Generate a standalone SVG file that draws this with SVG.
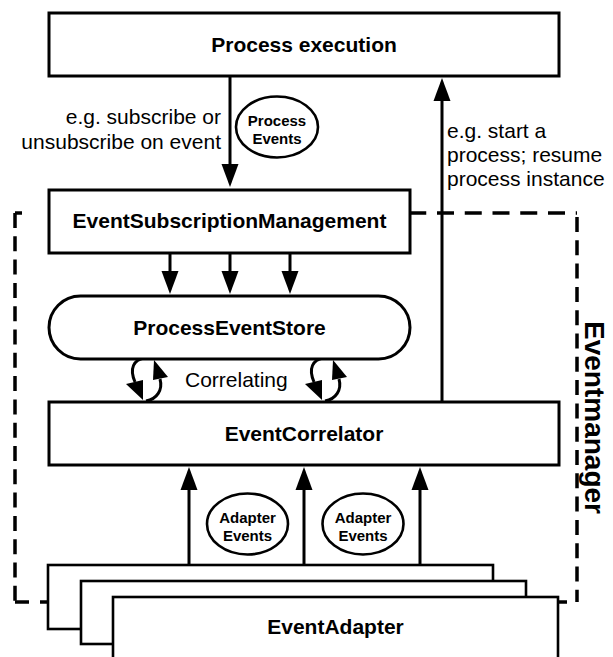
<svg xmlns="http://www.w3.org/2000/svg" width="613" height="657" viewBox="0 0 613 657">
  <style>
    text { font-family: "Liberation Sans", Arial, Helvetica, sans-serif; fill: #000; }
    .box { fill: #fff; stroke: #000; stroke-width: 3; }
    .adapter { fill: #fff; stroke: #000; stroke-width: 2.6; }
    .token { fill: #fff; stroke: #000; stroke-width: 2.6; }
    .title { font-size: 21px; font-weight: bold; text-anchor: middle; }
    .note { font-size: 21px; }
    .tok { font-size: 15px; font-weight: bold; text-anchor: middle; }
    .flow { fill: none; stroke: #000; stroke-width: 3; marker-end: url(#head); }
    .sync { fill: none; stroke: #000; stroke-width: 3; }
    .bound { fill: none; stroke: #000; stroke-width: 3.5; }
    .dh { stroke-dasharray: 17 10.75; }
    .dv { stroke-dasharray: 15 8.3; }
  </style>
  <defs>
    <!-- filled triangular arrowhead, placed with its base on the line end -->
    <marker id="head" markerUnits="userSpaceOnUse" markerWidth="24" markerHeight="18"
            refX="0" refY="8.5" orient="auto" overflow="visible">
      <path d="M0,0 L23,8.5 L0,17 Z" fill="#000"/>
    </marker>
    <!-- pair of curved correlating arrows (down on the left, up on the right) -->
    <g id="correlate">
      <path class="sync" d="M-5,-22 C-15,-20 -20,-12 -14,2"/>
      <polygon points="-23,4 -6,0 -6,20" fill="#000"/>
      <path class="sync" d="M-3,21 C8,19 14,10 11,-1"/>
      <polygon points="4,0 19,-3 5,-20" fill="#000"/>
    </g>
  </defs>

  <rect width="613" height="657" fill="#fff"/>

  <!-- Eventmanager boundary -->
  <g id="eventmanager-boundary">
    <line class="bound" x1="15" y1="213" x2="22" y2="213"/>
    <line class="bound dh" x1="409.25" y1="213" x2="577" y2="213"/>
    <line class="bound dv" x1="15" y1="213" x2="15" y2="602"/>
    <line class="bound dv" x1="577" y1="217" x2="577" y2="602"/>
    <line class="bound" x1="15" y1="602" x2="29" y2="602"/>
    <line class="bound" x1="40" y1="602" x2="48" y2="602"/>
    <line class="bound" x1="559" y1="602" x2="567" y2="602"/>
    <text transform="translate(585,321) rotate(90)" font-size="28" font-weight="bold">Eventmanager</text>
  </g>

  <!-- connectors -->
  <g id="connectors">
    <line class="flow" x1="230" y1="77" x2="230" y2="164"/>
    <line class="flow" x1="442" y1="401" x2="442" y2="101"/>
    <line class="flow" x1="170" y1="254" x2="170" y2="271"/>
    <line class="flow" x1="230" y1="254" x2="230" y2="271"/>
    <line class="flow" x1="290" y1="254" x2="290" y2="271"/>
    <line class="flow" x1="189" y1="596" x2="189" y2="490"/>
    <line class="flow" x1="304" y1="580" x2="304" y2="490"/>
    <line class="flow" x1="420" y1="564" x2="420" y2="490"/>
    <use href="#correlate" x="149" y="380"/>
    <use href="#correlate" x="328" y="380"/>
  </g>

  <!-- connector labels -->
  <g id="labels">
    <text class="note" x="221" y="124" text-anchor="end">e.g. subscribe or</text>
    <text class="note" x="221" y="149" text-anchor="end">unsubscribe on event</text>
    <text class="note" x="447" y="138">e.g. start a</text>
    <text class="note" x="447" y="162">process; resume</text>
    <text class="note" x="447" y="186">process instance</text>
    <text class="note" x="185" y="387">Correlating</text>
  </g>

  <g id="process-events">
    <ellipse class="token" cx="277" cy="127" rx="41" ry="30.5"/>
    <text class="tok" x="277" y="125.5">Process</text>
    <text class="tok" x="277" y="143.5">Events</text>
  </g>

  <g id="adapter-events-1">
    <ellipse class="token" cx="247.5" cy="524" rx="40.5" ry="30.5"/>
    <text class="tok" x="247.5" y="522.5">Adapter</text>
    <text class="tok" x="247.5" y="540.5">Events</text>
  </g>

  <g id="adapter-events-2">
    <ellipse class="token" cx="363" cy="524" rx="40.5" ry="30.5"/>
    <text class="tok" x="363" y="522.5">Adapter</text>
    <text class="tok" x="363" y="540.5">Events</text>
  </g>

  <g id="process-execution">
    <rect class="box" x="49" y="13" width="510" height="63"/>
    <text class="title" x="304" y="52">Process execution</text>
  </g>

  <g id="event-subscription-management">
    <rect class="box" x="49" y="190" width="361" height="63"/>
    <text class="title" x="229.5" y="228">EventSubscriptionManagement</text>
  </g>

  <g id="process-event-store">
    <rect class="box" x="49" y="296" width="361" height="63" rx="31.5" ry="31.5"/>
    <text class="title" x="229.5" y="335">ProcessEventStore</text>
  </g>

  <g id="event-correlator">
    <rect class="box" x="49" y="402" width="510" height="63"/>
    <text class="title" x="304" y="441">EventCorrelator</text>
  </g>

  <!-- stacked adapter instances -->
  <g id="event-adapter">
    <rect class="adapter" x="48" y="565" width="445" height="64"/>
    <rect class="adapter" x="81" y="581" width="445" height="63"/>
    <rect class="adapter" x="113" y="597" width="445" height="64"/>
    <text class="title" x="335.5" y="634">EventAdapter</text>
  </g>
</svg>
